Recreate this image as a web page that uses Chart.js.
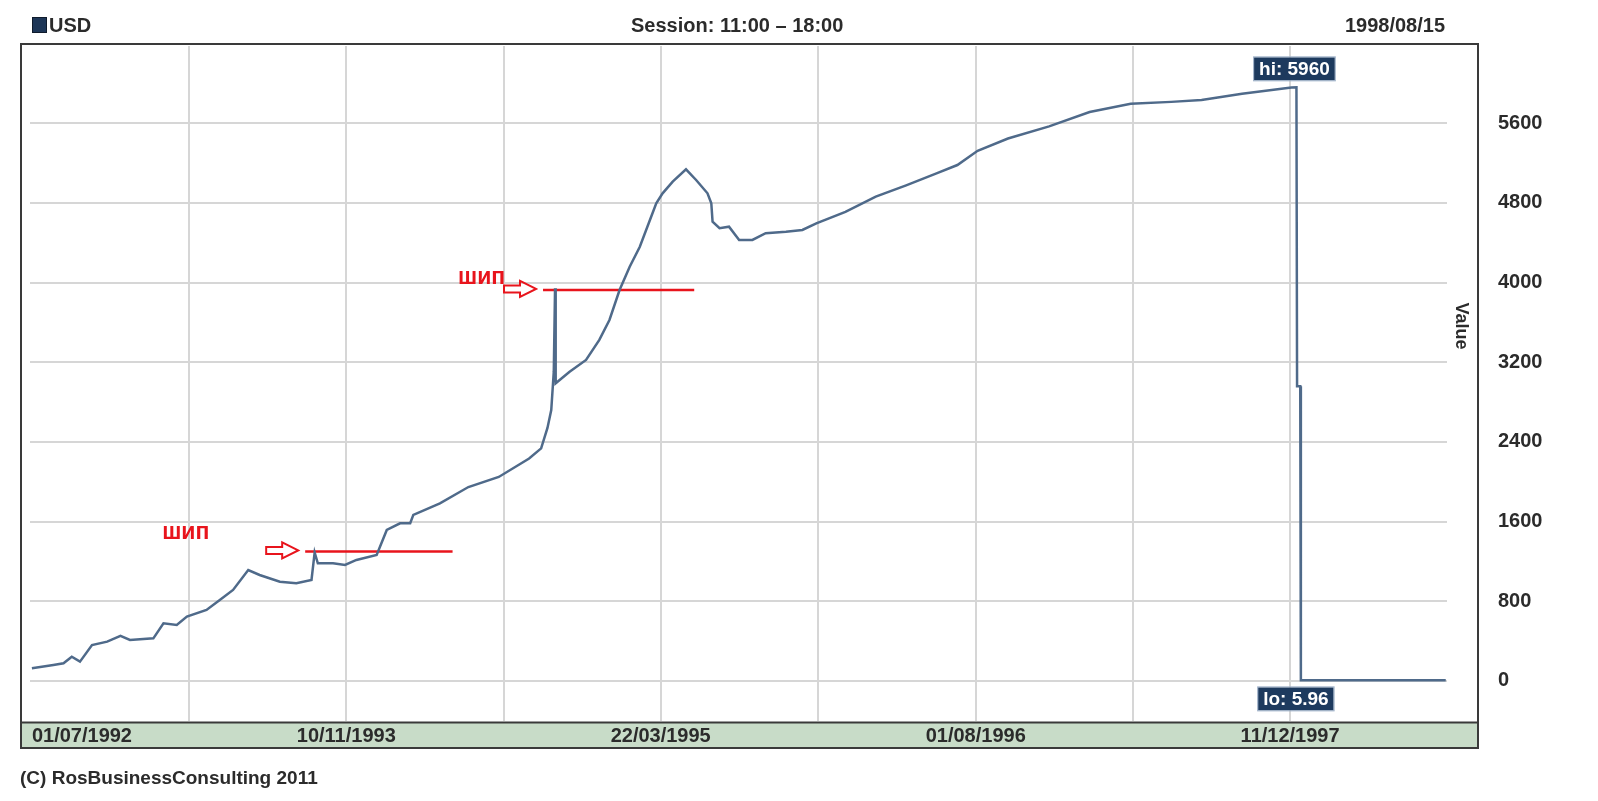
<!DOCTYPE html>
<html>
<head>
<meta charset="utf-8">
<script src="https://cdn.jsdelivr.net/npm/chart.js@4/dist/chart.umd.min.js"></script>
<style>
  html, body { margin: 0; padding: 0; background: #fff; }
  #wrap { width: 1598px; height: 801px; }
</style>
</head>
<body>
<div id="wrap"><canvas id="chart-usd" width="1598" height="801"></canvas></div>
<script>
// курс USD, дата -> значение
const dates = [
  "1992-07-01","1992-08-04","1992-08-20","1992-09-02","1992-09-15","1992-10-04","1992-10-28","1992-11-18",
  "1992-12-03","1993-01-09","1993-01-25","1993-02-15","1993-03-03","1993-04-03","1993-04-24","1993-05-15",
  "1993-06-08","1993-06-26","1993-07-28","1993-08-23","1993-09-16","1993-09-21","1993-09-26","1993-10-20",
  "1993-11-08","1993-11-26","1993-12-28","1994-01-13","1994-02-03","1994-02-19","1994-02-24","1994-04-07",
  "1994-05-22","1994-07-09","1994-08-26","1994-09-14","1994-09-24","1994-09-30","1994-10-04","1994-10-06",
  "1994-10-07","1994-10-29","1994-11-24","1994-12-15","1994-12-31","1995-01-16","1995-02-01","1995-02-17",
  "1995-03-05","1995-03-15","1995-03-25","1995-04-10","1995-05-01","1995-05-17","1995-06-04","1995-06-10",
  "1995-06-12","1995-06-23","1995-07-08","1995-07-24","1995-08-14","1995-09-04","1995-10-06","1995-11-01",
  "1995-11-23","1996-01-08","1996-02-25","1996-04-13","1996-06-01","1996-07-03","1996-08-04","1996-09-21",
  "1996-11-25","1997-01-28","1997-04-03","1997-06-06","1997-07-24","1997-09-26","1997-12-13","1997-12-21",
  "1997-12-22","1997-12-27","1997-12-28","1998-03-01","1998-06-01","1998-08-14"
];
const usdRub = [
  128, 161, 178, 244, 194, 361, 395, 452,
  412, 428, 579, 562, 646, 713, 813, 914,
  1114, 1064, 997, 981, 1014, 1290, 1182, 1182,
  1165, 1215, 1265, 1516, 1583, 1583, 1667, 1784,
  1947, 2048, 2233, 2335, 2540, 2720, 3105, 3943,
  2989, 3105, 3223, 3424, 3624, 3925, 4159, 4360,
  4628, 4796, 4896, 5013, 5137, 5030, 4896, 4796,
  4611, 4545, 4561, 4428, 4428, 4495, 4511, 4528,
  4595, 4709, 4862, 4975, 5098, 5180, 5323, 5446,
  5568, 5712, 5794, 5814, 5834, 5895, 5958, 5960,
  2960, 2960, 5.96, 6.1, 6.19, 6.29
];

const xTickDates  = ["1992-07-01","1993-03-06","1993-11-10","1994-07-17","1995-03-22",
                     "1995-11-26","1996-08-01","1997-04-06","1997-12-11","1998-08-16"];
const xTickLabels = ["01/07/1992","","10/11/1993","","22/03/1995","","01/08/1996","","11/12/1997",""];
const yTicks = [0, 800, 1600, 2400, 3200, 4000, 4800, 5600];

// пометки "шип"
const spikeLevels = [1300, 3926];
const spikeFrom   = ["1993-09-06", "1994-09-17"];
const spikeTo     = ["1994-04-27", "1995-05-14"];
const spikeText   = "шип";

const T0 = Date.UTC(1992, 6, 1);
function day(s) {
  const [y, m, d] = s.split("-").map(Number);
  return (Date.UTC(y, m - 1, d) - T0) / 864e5;
}

const FONT = "'Liberation Sans', Arial, sans-serif";
const INK = "#2b2b2b";

const series = dates.map((d, i) => ({ x: day(d), y: usdRub[i] }));

const frame = {
  id: "frame",
  beforeDraw(chart) {
    const c = chart.ctx;
    c.save();
    c.fillStyle = "#fff";
    c.fillRect(0, 0, chart.width, chart.height);

    // шапка
    c.fillStyle = "#1d3657";
    c.fillRect(32, 17, 15, 16);
    c.strokeStyle = "#0f1b2c";
    c.lineWidth = 1;
    c.strokeRect(32.5, 17.5, 14, 15);
    c.fillStyle = INK;
    c.font = "bold 20px " + FONT;
    c.textBaseline = "middle";
    c.textAlign = "left";
    c.fillText("USD", 49, 26);
    c.fillText("Session: 11:00 \u2013 18:00", 631, 26);
    c.textAlign = "right";
    c.fillText("1998/08/15", 1445, 26);

    // зелёная полоса под осью
    c.fillStyle = "#c8dcc8";
    c.fillRect(22, 722, 1456, 26);
    c.strokeStyle = "#3a3a3a";
    c.lineWidth = 2;
    c.beginPath();
    c.moveTo(22, 722.5); c.lineTo(1478, 722.5);
    c.stroke();
    c.strokeRect(21, 44, 1457, 704);

    // подвал
    c.fillStyle = INK;
    c.font = "bold 19px " + FONT;
    c.textAlign = "left";
    c.fillText("(C) RosBusinessConsulting 2011", 20, 779);

    // подпись оси
    c.save();
    c.translate(1461, 326);
    c.rotate(Math.PI / 2);
    c.font = "bold 18px " + FONT;
    c.textAlign = "center";
    c.fillText("Value", 0, 0);
    c.restore();
    c.restore();
  }
};

function tag(c, text, cx, top) {
  c.font = "bold 19px " + FONT;
  const w = c.measureText(text).width + 10;
  const h = 23;
  c.fillStyle = "#1d3a5e";
  c.fillRect(cx - w / 2, top, w, h);
  c.strokeStyle = "#9db0c8";
  c.lineWidth = 1;
  c.strokeRect(cx - w / 2 - 0.5, top - 0.5, w + 1, h + 1);
  c.fillStyle = "#fff";
  c.textAlign = "center";
  c.textBaseline = "middle";
  c.fillText(text, cx, top + h / 2 + 1);
}

function arrow(c, tipX, cy) {
  c.beginPath();
  c.moveTo(tipX, cy);
  c.lineTo(tipX - 16, cy - 8);
  c.lineTo(tipX - 16, cy - 3.5);
  c.lineTo(tipX - 32, cy - 3.5);
  c.lineTo(tipX - 32, cy + 3.5);
  c.lineTo(tipX - 16, cy + 3.5);
  c.lineTo(tipX - 16, cy + 8);
  c.closePath();
  c.strokeStyle = "#e8141c";
  c.lineWidth = 2;
  c.stroke();
}

const marks = {
  id: "marks",
  afterDatasetsDraw(chart) {
    const c = chart.ctx;
    const xs = chart.scales.x, ys = chart.scales.y;
    c.save();
    // hi / lo
    let hi = 0, lo = 0;
    usdRub.forEach((v, i) => { if (v > usdRub[hi]) hi = i; if (v < usdRub[lo]) lo = i; });
    const hx = xs.getPixelForValue(series[hi].x), hy = ys.getPixelForValue(series[hi].y);
    const lx = xs.getPixelForValue(series[lo].x), ly = ys.getPixelForValue(series[lo].y);
    tag(c, "hi: " + usdRub[hi], hx - 2, hy - 30);
    tag(c, "lo: " + usdRub[lo], lx - 5, ly + 7);

    // стрелки и подписи "шип"
    const textDx = [-143, -85], textDy = [-12, -6];
    spikeLevels.forEach((v, i) => {
      const x0 = xs.getPixelForValue(day(spikeFrom[i]));
      const y0 = ys.getPixelForValue(v);
      arrow(c, x0 - 7, y0 - 1);
      c.fillStyle = "#e8141c";
      c.font = "bold 23px " + FONT;
      c.textAlign = "left";
      c.textBaseline = "alphabetic";
      c.fillText(spikeText, x0 + textDx[i], y0 + textDy[i]);
    });
    c.restore();
  }
};

const spikeSets = spikeLevels.map((v, i) => ({
  data: [{ x: day(spikeFrom[i]), y: v }, { x: day(spikeTo[i]), y: v }],
  borderColor: "#e8141c",
  borderWidth: 2.5,
  pointRadius: 0
}));

new Chart(document.getElementById("chart-usd").getContext("2d"), {
  type: "line",
  data: {
    datasets: [
      { label: "USD", data: series, borderColor: "#4f6a8a", borderWidth: 2.5, pointRadius: 0, tension: 0 },
      ...spikeSets
    ]
  },
  options: {
    responsive: false,
    animation: false,
    layout: { padding: { left: 30, top: 46, right: 0, bottom: 0 } },
    plugins: { legend: { display: false }, tooltip: { enabled: false } },
    scales: {
      x: {
        type: "linear",
        min: -3,
        max: 2237,
        afterBuildTicks: s => { s.ticks = xTickDates.map(d => ({ value: day(d) })); },
        afterFit: s => { s.height = 80; s.paddingLeft = 0; s.paddingRight = 0; },
        border: { display: false },
        grid: {
          drawTicks: false,
          lineWidth: 2,
          color: ctx => (ctx.index === 0 || ctx.index === xTickDates.length - 1) ? "rgba(0,0,0,0)" : "#d6d6d6"
        },
        ticks: {
          autoSkip: false, maxRotation: 0, minRotation: 0,
          align: "inner",
          padding: 3,
          color: INK,
          font: { family: FONT, size: 20, weight: "bold" },
          callback: (v, i) => xTickLabels[i]
        }
      },
      y: {
        type: "linear",
        position: "right",
        min: -402,
        max: 6375,
        afterBuildTicks: s => { s.ticks = yTicks.map(v => ({ value: v })); },
        afterFit: s => { s.width = 151; s.paddingTop = 0; s.paddingBottom = 0; },
        border: { display: false },
        grid: { drawTicks: false, lineWidth: 2, color: "#d6d6d6" },
        ticks: {
          padding: 51,
          color: INK,
          font: { family: FONT, size: 20, weight: "bold" },
          callback: v => String(v)
        }
      }
    }
  },
  plugins: [frame, marks]
});
</script>
</body>
</html>
